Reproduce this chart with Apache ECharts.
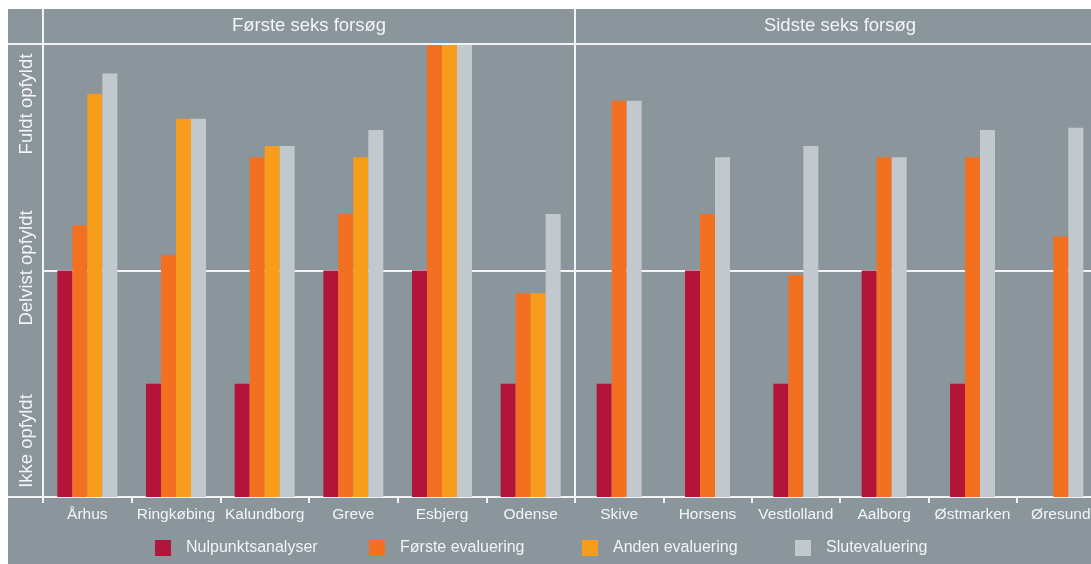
<!DOCTYPE html>
<html>
<head>
<meta charset="utf-8">
<script src="https://cdn.jsdelivr.net/npm/echarts@6/dist/echarts.min.js"></script>
<style>
html,body{margin:0;padding:0;background:#ffffff;overflow:hidden;width:1091px;height:564px;}
#chart{position:absolute;left:8px;top:9px;width:1110px;height:555px;}
</style>
</head>
<body>
<div id="chart"></div>
<script>
// Panel headers and level labels
var panelTitles = ['Første seks forsøg', 'Sidste seks forsøg'];
var levelLabels = ['Ikke opfyldt', 'Delvist opfyldt', 'Fuldt opfyldt'];
var seriesNames = ['Nulpunktsanalyser', 'Første evaluering', 'Anden evaluering', 'Slutevaluering'];

// Categories
var categories1 = ['Århus', 'Ringkøbing', 'Kalundborg', 'Greve', 'Esbjerg', 'Odense'];
var categories2 = ['Skive', 'Horsens', 'Vestlolland', 'Aalborg', 'Østmarken', 'Øresund'];

// Values (0 = bottom, 1 = Delvist line, 2 = top)
var nul1    = [1.0, 0.5, 0.5, 1.0, 1.0, 0.5];
var forste1 = [1.2, 1.07, 1.5, 1.25, 2.0, 0.9];
var anden1  = [1.78, 1.67, 1.55, 1.5, 2.0, 0.9];
var slut1   = [1.87, 1.67, 1.55, 1.62, 2.0, 1.25];

var nul2    = [0.5, 1.0, 0.5, 1.0, 0.5, null];
var forste2 = [1.75, 1.25, 0.98, 1.5, 1.5, 1.15];
var slut2   = [1.75, 1.5, 1.55, 1.5, 1.62, 1.63];

var colors = ['#b3153a', '#f37021', '#f89c1c', '#c2c9ce'];
var bg = '#8a959c';
var lineCol = '#f2f3f4';
var textCol = '#f4f5f6';
var font = '"Liberation Sans", Arial, sans-serif';

var chart = echarts.init(document.getElementById('chart'));

function xAxisFor(idx, cats) {
  return {
    type: 'category', gridIndex: idx, data: cats,
    axisLine: {show: true, lineStyle: {color: lineCol, width: 2}},
    axisTick: {show: true, length: 6, lineStyle: {color: lineCol, width: 2}},
    axisLabel: {color: textCol, fontSize: 15.5, fontFamily: font, margin: 10, interval: 0},
    splitLine: {show: false}
  };
}
function yAxisFor(idx) {
  return {
    type: 'value', gridIndex: idx, min: 0, max: 2, interval: 1,
    axisLine: {show: false}, axisTick: {show: false}, axisLabel: {show: false},
    splitLine: {show: true, lineStyle: {color: lineCol, width: 2}}
  };
}
function bar(nameIdx, axisIdx, data) {
  return {
    name: seriesNames[nameIdx], type: 'bar', xAxisIndex: axisIdx, yAxisIndex: axisIdx,
    data: data, barWidth: 15, barGap: '0%',
    itemStyle: {color: colors[nameIdx]}, emphasis: {disabled: true}, z: 1
  };
}

var graphics = [
  {type: 'line', shape: {x1: 0, y1: 35, x2: 1110, y2: 35}, style: {stroke: lineCol, lineWidth: 2}, z: 10},
  {type: 'line', shape: {x1: 0, y1: 488, x2: 35, y2: 488}, style: {stroke: lineCol, lineWidth: 2}, z: 10},
  {type: 'line', shape: {x1: 35, y1: 0, x2: 35, y2: 488}, style: {stroke: lineCol, lineWidth: 2}, z: 10},
  {type: 'line', shape: {x1: 567, y1: 0, x2: 567, y2: 488}, style: {stroke: lineCol, lineWidth: 2}, z: 10},
  {type: 'text', x: 301, y: 17, style: {text: panelTitles[0], fill: textCol, font: '18.5px ' + font, align: 'center', verticalAlign: 'middle'}},
  {type: 'text', x: 832, y: 17, style: {text: panelTitles[1], fill: textCol, font: '18.5px ' + font, align: 'center', verticalAlign: 'middle'}}
];
var levelY = [432, 259, 95];
for (var i = 0; i < levelLabels.length; i++) {
  graphics.push({type: 'text', x: 19, y: levelY[i], rotation: Math.PI / 2,
    style: {text: levelLabels[i], fill: textCol, font: '18.5px ' + font, align: 'center', verticalAlign: 'middle'}});
}

var legendLeft = [142, 356, 569, 782];
var legends = seriesNames.map(function (n, k) {
  return {
    data: [n], left: legendLeft[k], top: 526,
    icon: 'rect', itemWidth: 16, itemHeight: 16,
    textStyle: {color: textCol, fontSize: 16, fontFamily: font, padding: [0, 0, 0, 10]}
  };
});

chart.setOption({
  backgroundColor: bg,
  animation: false,
  grid: [
    {left: 35, top: 35, width: 532, height: 453, outerBoundsMode: 'none', containLabel: false},
    {left: 567, top: 35, width: 530, height: 453, outerBoundsMode: 'none', containLabel: false}
  ],
  xAxis: [xAxisFor(0, categories1), xAxisFor(1, categories2)],
  yAxis: [yAxisFor(0), yAxisFor(1)],
  legend: legends,
  graphic: graphics,
  series: [
    bar(0, 0, nul1), bar(1, 0, forste1), bar(2, 0, anden1), bar(3, 0, slut1),
    bar(0, 1, nul2), bar(1, 1, forste2), bar(3, 1, slut2)
  ]
});
</script>
</body>
</html>
